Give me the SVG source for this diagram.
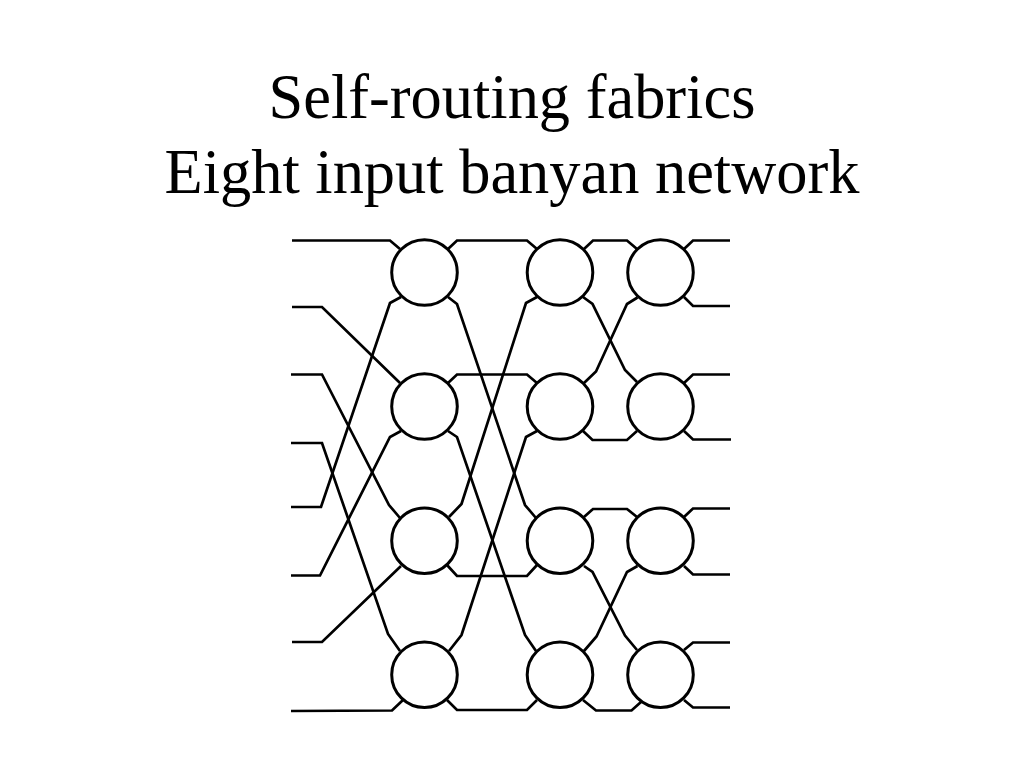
<svg xmlns="http://www.w3.org/2000/svg" width="1024" height="768" viewBox="0 0 1024 768">
<style>
.t{font-family:"Liberation Serif","Times New Roman",serif;font-size:62.4px;fill:#000;text-anchor:middle}
.n{fill:#fff;stroke:#000;stroke-width:3}
#connectors polyline{fill:none;stroke:#000;stroke-width:2.7;stroke-linejoin:miter}
</style>
<rect width="1024" height="768" fill="#fff"/>
<g id="title">
<text class="t" x="512" y="118">Self-routing fabrics</text>
<text class="t" x="512" y="193">Eight input banyan network</text>
</g>
<g id="connectors">
<polyline points="292,240.5 390,240.5 400,249"/>
<polyline points="292,307 322,307 400,383"/>
<polyline points="291,374.5 322,374.5 389,505 400,518"/>
<polyline points="291,443 322,443 388,634 400,651"/>
<polyline points="291,507 321,507 390,303 401,297"/>
<polyline points="291,575.5 320,575.5 390,437 401,431"/>
<polyline points="292,642 322,642 401,566"/>
<polyline points="291,711 392,710.5 403,700"/>
<polyline points="448,249 457,240.5 527,240.5 537,249"/>
<polyline points="448,297 457,304 525,505 536,518"/>
<polyline points="448,383 457,374.5 527,374.5 537,383"/>
<polyline points="448,431 457,437 525,635 536,651"/>
<polyline points="449,517 461.5,504 526,303 537,297"/>
<polyline points="447,565 457,576 527,576 537,565"/>
<polyline points="449,651 461.5,635 526,437 537,431"/>
<polyline points="447,700 457,710 527,710 537,700"/>
<polyline points="584,249 593,240.5 627,240.5 637,249"/>
<polyline points="583,297 592.5,304 625,370 637,382"/>
<polyline points="584,383 596,371.5 627,304 637.5,297.5"/>
<polyline points="583,431 592.5,440 627,440 637,431"/>
<polyline points="584,517 593,509 627,509 637,517"/>
<polyline points="584,566 592.5,572 625,635.5 637,650"/>
<polyline points="584,651 596.5,636.5 627,572 637.5,566"/>
<polyline points="583,700 596,710.5 631.5,710.5 641,702"/>
<polyline points="684,249 693,240.5 730,240.5"/>
<polyline points="684,297 693,306 730,306"/>
<polyline points="684,383 693,374.5 730,374.5"/>
<polyline points="684,431 693,439.5 731,439.5"/>
<polyline points="684,517 693,508.5 730,508.5"/>
<polyline points="684,566 693,574.5 730,574.5"/>
<polyline points="684,650 693,642.5 730,642.5"/>
<polyline points="684,700 693,707.5 730,707.5"/>
</g>
<g id="n11"><circle class="n" cx="424.5" cy="272.5" r="32.8"/></g>
<g id="n12"><circle class="n" cx="424.5" cy="406.5" r="32.8"/></g>
<g id="n13"><circle class="n" cx="424.5" cy="540.7" r="32.8"/></g>
<g id="n14"><circle class="n" cx="424.5" cy="674.7" r="32.8"/></g>
<g id="n21"><circle class="n" cx="560" cy="272.5" r="32.8"/></g>
<g id="n22"><circle class="n" cx="560" cy="406.5" r="32.8"/></g>
<g id="n23"><circle class="n" cx="560" cy="540.7" r="32.8"/></g>
<g id="n24"><circle class="n" cx="560" cy="674.7" r="32.8"/></g>
<g id="n31"><circle class="n" cx="660.5" cy="272.5" r="32.8"/></g>
<g id="n32"><circle class="n" cx="660.5" cy="406.5" r="32.8"/></g>
<g id="n33"><circle class="n" cx="660.5" cy="540.7" r="32.8"/></g>
<g id="n34"><circle class="n" cx="660.5" cy="674.7" r="32.8"/></g>
</svg>
